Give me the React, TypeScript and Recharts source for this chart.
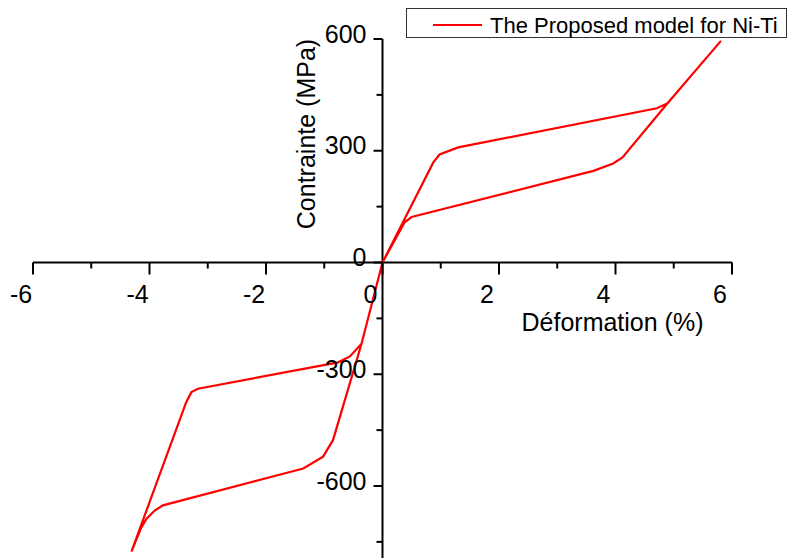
import React from 'react';
import { LineChart, Line, XAxis, YAxis, ReferenceLine, ReferenceDot } from 'recharts';

// strain (%) and stress (MPa) read along the hysteresis path:
// tension load / unload, then compression load / unload
const strain = [
  0, 0.87, 0.98, 1.3, 4.71, 4.89, 5.81,
  4.89, 4.12, 3.96, 3.62, 0.5, 0.38, 0,
  -0.36, -0.85, -1.02, -1.36, -3.77, -3.91, -4.05, -4.14, -4.31,
  -3.37, -3.28, -3.17, -0.76, -0.56, -0.36, 0,
];
const stress = [
  0, 268, 290, 309, 414, 427, 595,
  427, 282, 266, 246, 122, 108, 0,
  -218, -477, -521, -553, -652, -666, -688, -711, -776,
  -375, -348, -339, -268, -252, -218, 0,
];

const xTicks = [-6, -5, -4, -3, -2, -1, 0, 1, 2, 3, 4, 5, 6];
const xLabels = [-6, -4, -2, 0, 2, 4, 6];
const yTicks = [-750, -600, -450, -300, -150, 0, 150, 300, 450, 600];
const yLabels = [-600, -300, 0, 300, 600];

const seriesName = 'The Proposed model for Ni-Ti';
const xTitle = 'Déformation (%)';
const yTitle = 'Contrainte (MPa)';

const FONT = "'Liberation Sans', Arial, Helvetica, sans-serif";

const chartData = strain.map((x, i) => ({ x, y: stress[i] }));

const XTickMark = ({ cx, cy, value }: any) => {
  const major = xLabels.includes(value);
  return (
    <g>
      <line x1={cx} y1={cy} x2={cx} y2={cy + (major ? 12 : 6)} stroke="#000" strokeWidth={2} />
      {major && (
        <text x={cx - 12} y={cy + 40.5} textAnchor="middle" fontSize={25} fontFamily={FONT} fill="#000">
          {value}
        </text>
      )}
    </g>
  );
};

const YTickMark = ({ cx, cy, value }: any) => {
  const major = yLabels.includes(value);
  return (
    <g>
      <line x1={cx - (major ? 9 : 6)} y1={cy} x2={cx} y2={cy} stroke="#000" strokeWidth={2} />
      {major && (
        <text x={cx - 16} y={cy + 3.5} textAnchor="end" fontSize={25} fontFamily={FONT} fill="#000">
          {value}
        </text>
      )}
    </g>
  );
};

const App: React.FC = () => {
  return (
    <div
      style={{
        position: 'absolute',
        left: 0,
        top: 0,
        width: 787,
        height: 558,
        overflow: 'hidden',
        background: '#fff',
      }}
    >
      <LineChart
        width={787}
        height={562}
        data={chartData}
        margin={{ top: 39, right: 55, left: 33, bottom: 1.5 }}
      >
        <XAxis type="number" dataKey="x" domain={[-6, 6]} hide allowDataOverflow />
        <YAxis type="number" domain={[-800, 600]} hide allowDataOverflow />

        {/* axes crossing at the origin */}
        <ReferenceLine y={0} stroke="#000" strokeWidth={2} />
        <ReferenceLine x={0} stroke="#000" strokeWidth={2} />

        {xTicks.map((t) => (
          <ReferenceDot
            key={`xt${t}`}
            x={t}
            y={0}
            shape={(p: any) => <XTickMark {...p} value={t} />}
          />
        ))}
        {yTicks.map((t) => (
          <ReferenceDot
            key={`yt${t}`}
            x={0}
            y={t}
            shape={(p: any) => <YTickMark {...p} value={t} />}
          />
        ))}

        <Line
          type="linear"
          dataKey="y"
          stroke="#ff0000"
          strokeWidth={2.2}
          dot={false}
          activeDot={false}
          isAnimationActive={false}
          name={seriesName}
        />
      </LineChart>

      {/* titles and legend */}
      <svg
        width={787}
        height={558}
        style={{ position: 'absolute', left: 0, top: 0, pointerEvents: 'none' }}
      >
        <text x={612.5} y={331} textAnchor="middle" fontSize={25} fontFamily={FONT} fill="#000">
          {xTitle}
        </text>
        <text
          x={315}
          y={134}
          transform="rotate(-90 315 134)"
          textAnchor="middle"
          fontSize={25}
          fontFamily={FONT}
          fill="#000"
        >
          {yTitle}
        </text>
        <rect x={406.5} y={8.5} width={380} height={29} fill="#fff" stroke="#333" strokeWidth={1} />
        <line x1={433} y1={25} x2={482} y2={25} stroke="#ff0000" strokeWidth={2.2} />
        <text x={490} y={33} fontSize={22} fontFamily={FONT} fill="#000">
          {seriesName}
        </text>
      </svg>
    </div>
  );
};

export default App;
